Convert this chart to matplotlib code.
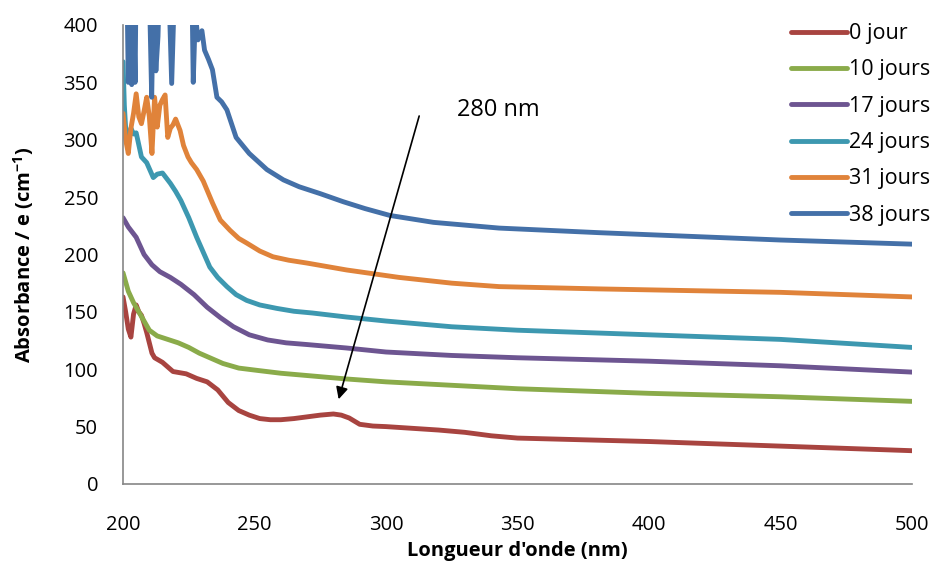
import numpy as np
import matplotlib.pyplot as plt

plt.rcParams['font.family'] = ['Open Sans', 'DejaVu Sans']

# 0 jour
wl_0 = [200, 201, 202, 203, 204, 205, 206, 207, 208, 209, 210, 211, 212, 215, 219, 224, 228,
        232, 236, 240, 244, 248, 252, 256, 260, 265, 270, 275, 280, 283, 286, 290, 295, 300,
        310, 320, 330, 340, 350, 375, 400, 425, 450, 475, 500]
ab_0 = [163, 150, 135, 128, 148, 156, 150, 147, 140, 132, 123, 114, 110, 106, 98, 96, 92,
        89, 82, 71, 64, 60, 57, 56, 56, 57, 58.5, 60, 61, 60, 57.5, 52, 50.5, 50,
        48.5, 47, 45, 42, 40, 38.5, 37, 35, 33, 31, 29]

# 10 jours
wl_10 = [200, 202, 204, 206, 208, 210, 213, 217, 221, 225, 229, 234, 238, 244, 251, 260,
         270, 285, 300, 325, 350, 375, 400, 450, 500]
ab_10 = [184, 168, 158, 150, 142, 134, 129, 126, 123, 119, 114, 109, 105, 101, 99, 96.5,
         94.5, 91.5, 89, 86, 83, 81, 79, 76, 72]

# 17 jours
wl_17 = [200, 202, 205, 208, 211, 214, 218, 222, 227, 232, 237, 242, 248, 255, 262, 270,
         285, 300, 325, 350, 375, 400, 450, 500]
ab_17 = [232, 224, 215, 200, 191, 185, 180, 174, 165, 154, 145, 137, 130, 125.5, 123, 121.5,
         118.5, 115, 112, 110, 108.5, 107, 103, 97.5]

# 24 jours
wl_24 = [200, 200.5, 201, 202, 203, 204, 205, 207, 209, 211.5, 213, 215, 217, 218, 220, 222,
         225, 228, 233, 236, 239.5, 243, 247, 252, 258.5, 265, 272, 285, 300, 325, 350, 375,
         400, 450, 500]
ab_24 = [368, 330, 310, 300, 310, 305, 306, 285, 280, 267, 270, 271, 265, 262, 255, 247,
         232, 215, 189, 180, 172, 165, 160, 156, 153, 150.5, 149, 145.5, 142, 137, 134, 132,
         130, 126, 119]

# 31 jours
wl_31 = [200, 201, 202, 203, 204, 205, 206, 207, 208, 209, 210, 211, 212, 213, 214, 215, 216,
         217, 218, 219, 220, 221.7, 223, 224.7, 226, 228, 230.5, 234, 237, 240.7, 244, 247,
         252, 257, 263, 270, 285, 305, 325, 343, 381, 450, 500]
ab_31 = [323, 300, 288, 310, 323, 340, 320, 314, 325, 337, 320, 288, 337, 311, 330, 335, 339,
         302, 310, 313, 318, 308, 295, 285, 280, 274, 264, 245, 230, 221, 214, 210,
         203, 198, 195, 192.5, 186.5, 180, 175, 172, 170, 167, 163]

# 38 jours
wl_38 = [200, 201.4, 202, 202.7, 203.3, 204, 204.6, 205, 209.6, 210.3, 210.9, 211.5, 212.5,
         213.3, 214, 217.2, 218.5, 219.8, 226.1, 226.7, 227.5, 228.5, 230, 231, 232.5, 234,
         235.7, 237.5, 239.5, 243, 248, 254.7, 261, 267, 275, 283.7, 292, 301.5, 318, 343,
         381, 450, 500]
ab_38 = [450, 450, 350, 420, 348, 420, 350, 450, 450, 400, 337, 420, 360,
         390, 450, 450, 349, 450, 450, 350, 410, 387, 395, 378, 370, 361,
         337, 333, 326, 302, 288, 274, 265, 259, 253, 246, 240, 234, 228, 223,
         219, 212.6, 209]

series = [
    (wl_0, ab_0, '0 jour', '#A84440'),
    (wl_10, ab_10, '10 jours', '#8AAB4A'),
    (wl_17, ab_17, '17 jours', '#6D5591'),
    (wl_24, ab_24, '24 jours', '#3D98B0'),
    (wl_31, ab_31, '31 jours', '#E0833A'),
    (wl_38, ab_38, '38 jours', '#4470A8'),
]

fig = plt.figure(figsize=(9.37, 5.65), dpi=100)
ax = fig.add_axes([0.1313, 0.1434, 0.842, 0.8124])

for wl, ab, lab, col in series:
    ax.plot(wl, ab, color=col, lw=3.5, label=lab, solid_capstyle='round')

ax.set_xlim(200, 500)
ax.set_ylim(0, 400)
ax.set_xticks(np.arange(200, 501, 50))
ax.set_yticks(np.arange(0, 401, 50))
ax.tick_params(length=0, labelsize=14.5)
ax.tick_params(axis='y', pad=18)
ax.tick_params(axis='x', pad=22)
for s in ['top', 'right']:
    ax.spines[s].set_visible(False)
for s in ['left', 'bottom']:
    ax.spines[s].set_color('#868686')
    ax.spines[s].set_linewidth(1.2)

ax.set_xlabel("Longueur d'onde (nm)", fontsize=14.5, fontweight='bold', labelpad=5)
ax.set_ylabel("Absorbance / e (cm$^{\\mathregular{-1}}$)", fontsize=14.5, fontweight='bold', labelpad=20)

ax.annotate('', xy=(281.7, 71.5), xytext=(312.9, 323),
            arrowprops=dict(arrowstyle='-|>', color='black', lw=1.2, mutation_scale=18))
ax.text(342.6, 326, '280 nm', fontsize=17, ha='center', va='center')

ax.legend(loc='upper left', bbox_to_anchor=(0.8325, 0.978), bbox_transform=fig.transFigure,
          frameon=False, fontsize=15.5, handlelength=2.6, handletextpad=0.1,
          labelspacing=0.71, borderpad=0)

fig.savefig('out.png', dpi=100)
